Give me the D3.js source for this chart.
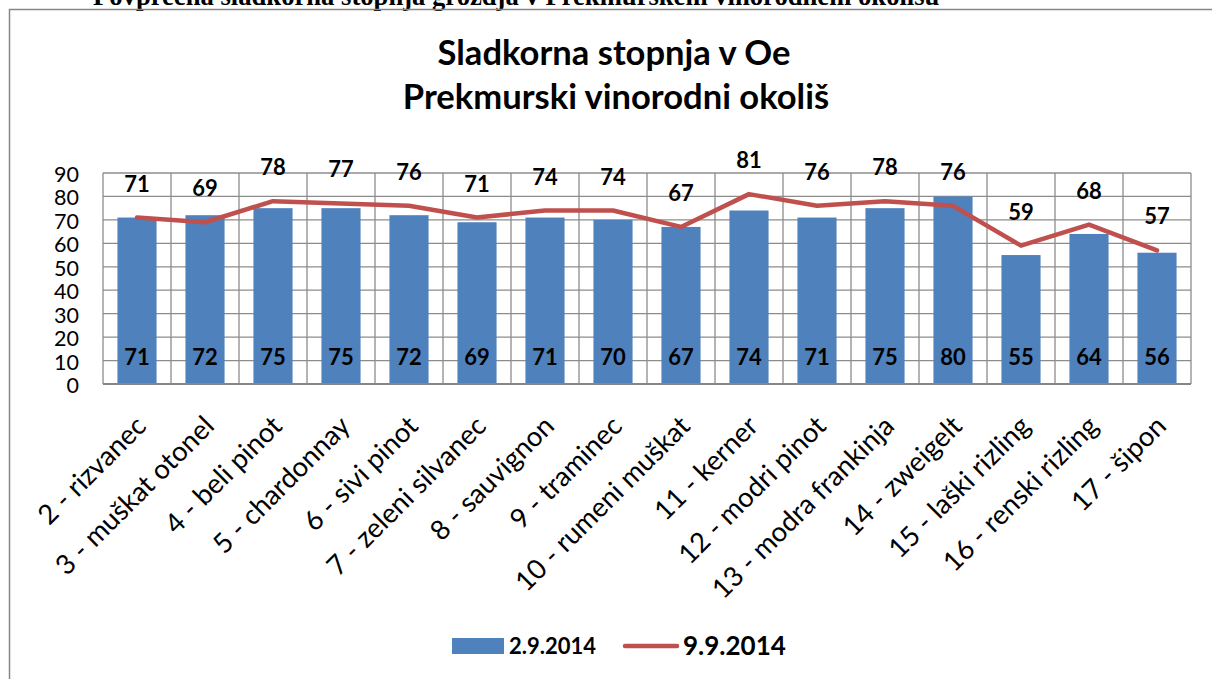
<!DOCTYPE html>
<html><head><meta charset="utf-8">
<script src="https://cdn.jsdelivr.net/npm/d3@7"></script>
<style>body{margin:0;background:#fff;overflow:hidden} svg{display:block}</style>
</head><body><svg id="c" width="1212" height="679"></svg>
<script>
const categories = ["2 - rizvanec","3 - muškat otonel","4 - beli pinot","5 - chardonnay","6 - sivi pinot","7 - zeleni silvanec","8 - sauvignon","9 - traminec","10 - rumeni muškat","11 - kerner","12 - modri pinot","13 - modra frankinja","14 - zweigelt","15 - laški rizling","16 - renski rizling","17 - šipon"];
const bars0209 = [71,72,75,75,72,69,71,70,67,74,71,75,80,55,64,56];
const line0909 = [71,69,78,77,76,71,74,74,67,81,76,78,76,59,68,57];
const yTicks = [0,10,20,30,40,50,60,70,80,90];
const seriesNames = ["2.9.2014","9.9.2014"];
const titleLines = ["Sladkorna stopnja v Oe","Prekmurski vinorodni okoliš"];
const headerText = "Povprečna sladkorna stopnja grozdja v Prekmurskem vinorodnem okolišu";

const svg = d3.select("#c");
const SANS = "Lato, 'Open Sans', sans-serif";
const BLUE = "#4F81BD", RED = "#C0504D", GRID = "#8c8c8c";

function fitSize(text, family, weight, baseSize, target){
  const t = svg.append("text").attr("font-family", family).attr("font-weight", weight)
    .attr("font-size", baseSize).text(text);
  const w = t.node().getComputedTextLength();
  t.remove();
  return baseSize * target / w;
}

// header (cut off at top, as in the source document)
svg.append("text").attr("x", 93).attr("y", 5)
  .attr("font-family", "'Liberation Serif', 'Times New Roman', serif").attr("font-weight", "bold")
  .attr("font-size", fitSize(headerText, "'Liberation Serif', serif", "bold", 20, 847))
  .attr("fill", "#000").text(headerText);

// outer chart border
svg.append("rect").attr("x", 9.5).attr("y", 9.5).attr("width", 1400).attr("height", 900)
  .attr("fill", "none").attr("stroke", "#878787").attr("stroke-width", 1.5);

// title
const tSize = fitSize(titleLines[0], SANS, "bold", 30, 353);
svg.append("text").attr("x", 614).attr("y", 65).attr("text-anchor", "middle")
  .attr("font-family", SANS).attr("font-weight", "bold").attr("font-size", tSize).text(titleLines[0]);
svg.append("text").attr("x", 616).attr("y", 109).attr("text-anchor", "middle")
  .attr("font-family", SANS).attr("font-weight", "bold").attr("font-size", tSize).text(titleLines[1]);

// scales
const x = d3.scaleBand().domain(categories).range([103, 1191]).paddingInner(0).paddingOuter(0);
const y = d3.scaleLinear().domain([0, 90]).range([384, 173]);
const step = x.step();
const bw = step * 0.575;

const g = svg.append("g");
// horizontal grid
g.selectAll("line.h").data(yTicks).join("line")
  .attr("x1", 103).attr("x2", 1191).attr("y1", d => y(d)).attr("y2", d => y(d))
  .attr("stroke", GRID).attr("stroke-width", 1.3);
// vertical grid at category boundaries
const bounds = categories.map(c => x(c)).concat([x(categories[categories.length-1]) + step]);
g.selectAll("line.v").data(bounds).join("line")
  .attr("x1", d => d).attr("x2", d => d).attr("y1", y(90)).attr("y2", y(0))
  .attr("stroke", GRID).attr("stroke-width", 1.3);

// bars
g.selectAll("rect.bar").data(bars0209).join("rect")
  .attr("x", (d, i) => x(categories[i]) + step/2 - bw/2)
  .attr("width", bw).attr("y", d => y(d)).attr("height", d => y(0) - y(d))
  .attr("fill", BLUE);

// axis baseline
g.append("line").attr("x1", 103).attr("x2", 1191).attr("y1", y(0)).attr("y2", y(0))
  .attr("stroke", "#868686").attr("stroke-width", 2);

// y axis labels
const yAxis = d3.axisLeft(y).tickValues(yTicks).tickSize(0).tickPadding(0);
const yG = svg.append("g").attr("transform", "translate(79,0)").call(yAxis);
yG.select(".domain").remove();
yG.selectAll("text").attr("font-family", SANS).attr("font-size", 21.5).attr("fill", "#000")
  .attr("dy", "0.35em").attr("y", 1);

// line
const lineGen = d3.line().x((d, i) => x(categories[i]) + step/2).y(d => y(d));
svg.append("path").datum(line0909).attr("d", lineGen).attr("fill", "none")
  .attr("stroke", RED).attr("stroke-width", 4.5).attr("stroke-linejoin", "round").attr("stroke-linecap", "round");

// bar value labels
const vSize = fitSize("71", SANS, "bold", 20, 25.5);
svg.selectAll("text.bv").data(bars0209).join("text")
  .attr("x", (d, i) => x(categories[i]) + step/2).attr("y", y(0) - 19)
  .attr("text-anchor", "middle").attr("font-family", SANS).attr("font-weight", "bold")
  .attr("font-size", vSize).attr("fill", "#000").text(d => d);

// line value labels
svg.selectAll("text.lv").data(line0909).join("text")
  .attr("x", (d, i) => x(categories[i]) + step/2).attr("y", d => y(d) - 26)
  .attr("text-anchor", "middle").attr("font-family", SANS).attr("font-weight", "bold")
  .attr("font-size", vSize).attr("fill", "#000").text(d => d);

// x axis labels
const xSize = fitSize("13 - modra frankinja", SANS, "normal", 20, 244);
const xAxis = d3.axisBottom(x).tickSize(0).tickPadding(0);
const xG = svg.append("g").call(xAxis);
xG.select(".domain").remove();
xG.selectAll(".tick").attr("transform", d => `translate(${x(d) + step/2 + 4},421)`);
xG.selectAll("text").attr("font-family", SANS).attr("font-size", xSize).attr("fill", "#000")
  .attr("text-anchor", "end").attr("dy", "0.35em").attr("y", 0).attr("transform", "rotate(-45)");

// legend
svg.append("rect").attr("x", 452).attr("y", 638).attr("width", 52).attr("height", 16).attr("fill", BLUE);
svg.append("text").attr("x", 509).attr("y", 654).attr("font-family", SANS).attr("font-weight", "bold")
  .attr("font-size", fitSize(seriesNames[0], SANS, "bold", 20, 87)).text(seriesNames[0]);
svg.append("line").attr("x1", 625).attr("x2", 677).attr("y1", 646).attr("y2", 646)
  .attr("stroke", RED).attr("stroke-width", 4.5).attr("stroke-linecap", "round");
svg.append("text").attr("x", 683).attr("y", 655).attr("font-family", SANS).attr("font-weight", "bold")
  .attr("font-size", fitSize(seriesNames[1], SANS, "bold", 20, 103)).text(seriesNames[1]);
</script></body></html>
